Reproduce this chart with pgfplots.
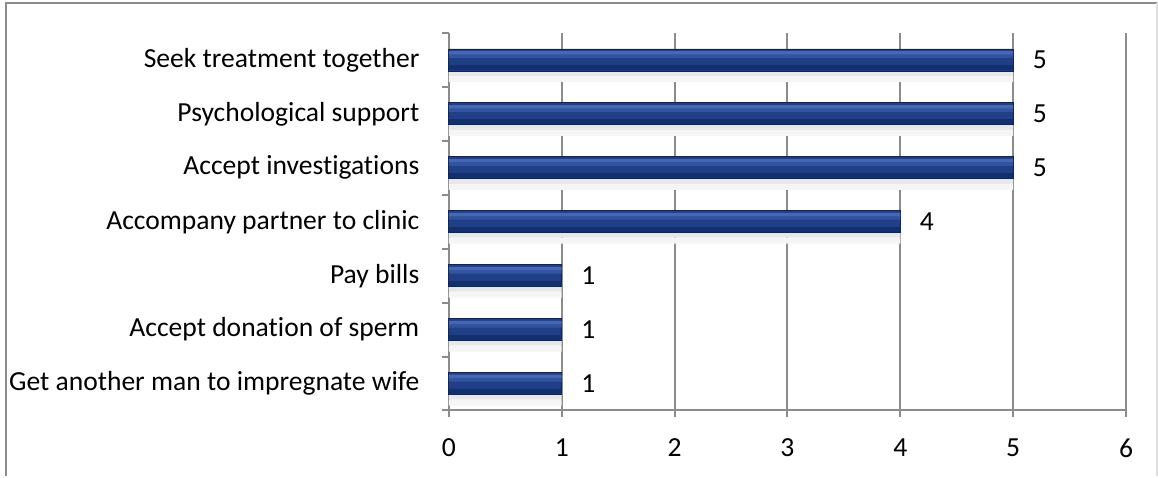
\documentclass[border=0pt]{standalone}
\usepackage{fontspec}
\setmainfont{Carlito}[Ligatures=NoCommon]
\usepackage{pgfplots}
\pgfplotsset{compat=1.18}
\definecolor{bardark}{HTML}{0F2458}
\definecolor{barbody}{HTML}{213F86}
\definecolor{barlow}{HTML}{14306C}
\definecolor{barmid}{HTML}{3253A0}
\definecolor{barlight}{HTML}{4668B2}
\definecolor{gridgray}{HTML}{8C8C8C}
\newcommand{\fs}{\fontsize{13.8}{16}\selectfont}
\pgfplotstableread{
val cat
1 0
1 1
1 2
4 3
5 4
5 5
5 6
}\datatab
\begin{document}
\fs
\begin{tikzpicture}
\begin{axis}[
  name=ax,
  at={(0,0)}, anchor=south west,
  scale only axis,
  width=339pt, height=189pt,
  xbar,
  xmin=0, xmax=6,
  ymin=-0.5, ymax=6.5,
  /pgf/number format/assume math mode=true,
  xtick={0,1,2,3,4,5,6},
  xmajorgrids=true,
  grid style={gridgray, line width=1pt},
  axis x line*=bottom,
  axis y line*=left,
  axis line style={gridgray, line width=1pt},
  x axis line style={-},
  y axis line style={-},
  xtick style={gridgray, line width=1pt},
  ytick style={gridgray, line width=1pt},
  major tick length=3.5pt,
  tick align=outside,
  xticklabel style={yshift=-6pt, font=\fs},
  ytick={-0.5,0.5,1.5,2.5,3.5,4.5,5.5,6.5},
  yticklabels={},
  extra y ticks={0,1,2,3,4,5,6},
  extra y tick labels={Get another man to impregnate wife,Accept donation of sperm,Pay bills,Accompany partner to clinic,Accept investigations,Psychological support,Seek treatment together},
  extra y tick style={major tick length=0pt, yticklabel style={xshift=-10pt, font=\fs}},
  clip=false,
]
% soft shadow
\addplot[draw=none, fill=black!9, bar width=3pt, bar shift=-6.5pt, forget plot] table[x=val,y=cat]{\datatab};
\addplot[draw=none, fill=black!4, bar width=3pt, bar shift=-9.5pt, forget plot] table[x=val,y=cat]{\datatab};
% base bar
\addplot[draw=bardark, line width=0.4pt, fill=barbody, bar width=11pt, bar shift=0pt,
  nodes near coords,
  every node near coord/.append style={anchor=west, xshift=5pt, text=black, font=\fs, /pgf/number format/assume math mode=true}]
  table[x=val,y=cat]{\datatab};
% lower dark band
\addplot[draw=none, fill=barlow, bar width=2.5pt, bar shift=-3.9pt, forget plot] table[x=val,y=cat]{\datatab};
% mid band
\addplot[draw=none, fill=barmid, bar width=2pt, bar shift=2pt, forget plot] table[x=val,y=cat]{\datatab};
% highlight
\addplot[draw=none, fill=barlight, bar width=1.6pt, bar shift=3.6pt, forget plot] table[x=val,y=cat]{\datatab};
\end{axis}
\draw[gridgray, line width=1pt] ([shift={(-221.5pt,-33pt)}]ax.south west) -- ([shift={(-221.5pt,204pt)}]ax.south west) -- ([shift={(354.5pt,204pt)}]ax.south west);
\draw[gray!25, line width=1pt] ([shift={(354.5pt,204pt)}]ax.south west) -- ([shift={(354.5pt,-33pt)}]ax.south west);
\useasboundingbox ([shift={(-224pt,-33pt)}]ax.south west) rectangle ([shift={(355pt,205.5pt)}]ax.south west);
\end{tikzpicture}
\end{document}
